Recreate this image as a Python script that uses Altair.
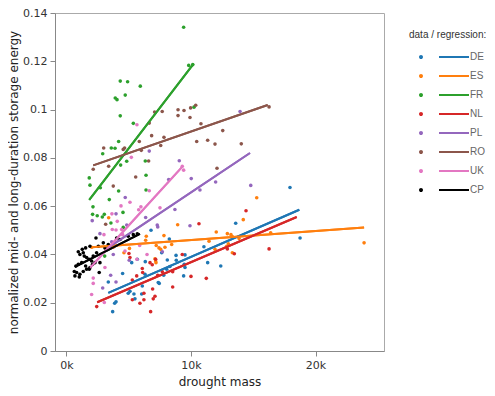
import altair as alt
import pandas as pd

regions = ["DE", "ES", "FR", "NL", "PL", "RO", "UK", "CP"]
colors = ["#1f77b4", "#ff7f0e", "#2ca02c", "#d62728", "#9467bd", "#8c564b", "#e377c2", "#000000"]

de_x = [6790, 8260, 11040, 7650, 8800, 8820, 6330, 11340, 12390, 8310, 9520, 8050, 7810, 6310, 9410, 7370,
        3360, 3710, 3870, 3980, 5100, 5420, 5500, 6040, 6090, 7450, 13590, 18760, 17950,
        4510, 5240, 5690, 4960, 9520, 9460, 8100]
de_y = [0.0500, 0.0464, 0.0432, 0.0407, 0.0396, 0.0376, 0.0370, 0.0366, 0.0352, 0.0350, 0.0346, 0.0339, 0.0314, 0.0318, 0.0311, 0.0284,
        0.0286, 0.0163, 0.0198, 0.0204, 0.0247, 0.0236, 0.0216, 0.0236, 0.0269, 0.0280, 0.0529, 0.0468, 0.0677,
        0.0321, 0.0366, 0.0380, 0.0239, 0.0398, 0.0359, 0.0377]

es_x = [8930, 12030, 7830, 6410, 6360, 7210, 7430, 7570, 8450, 11450, 11930, 7110, 7160, 3390, 14200,
        12920, 13210, 13320, 13860, 16400, 12870, 13000, 13320, 23900, 15280,
        2020, 3760, 5060, 4620, 7190, 7910]
es_y = [0.0523, 0.0493, 0.0478, 0.0475, 0.0459, 0.0437, 0.0427, 0.0421, 0.0441, 0.0455, 0.0421, 0.0382, 0.0373, 0.0552, 0.0544,
        0.0486, 0.0482, 0.0474, 0.0466, 0.0490, 0.0434, 0.0444, 0.0407, 0.0448, 0.0635,
        0.0430, 0.0430, 0.0425, 0.0407, 0.0366, 0.0430]

fr_x = [9410, 9820, 10140, 4320, 4910, 5930, 3920, 4060, 4720, 4320, 5370, 10240, 4190, 3600, 3900, 2910,
        4350, 4840, 6330, 1830, 1890, 2720, 6390, 6390, 4190, 3440, 2130, 2100, 2470, 2880, 3040, 4540,
        3570, 4560, 3070]
fr_y = [0.1341, 0.1183, 0.1186, 0.1118, 0.1115, 0.1097, 0.1048, 0.1041, 0.1060, 0.0974, 0.0943, 0.1010, 0.0868, 0.0841, 0.0840, 0.0817,
        0.0770, 0.0786, 0.0787, 0.0717, 0.0687, 0.0676, 0.0728, 0.0667, 0.0663, 0.0627, 0.0597, 0.0566, 0.0560, 0.0555, 0.0566, 0.0574,
        0.0530, 0.0512, 0.0393]

nl_x = [10640, 7160, 6890, 6090, 6120, 7700, 7330, 8530, 10000, 11230, 2430, 5290, 5900, 6220, 6220, 6920,
        6970, 7110, 6760, 8530, 14420, 16270, 13480, 12920, 5020, 5100, 5290, 5640, 9300, 6710]
nl_y = [0.0527, 0.0380, 0.0357, 0.0342, 0.0325, 0.0328, 0.0314, 0.0328, 0.0309, 0.0301, 0.0184, 0.0212, 0.0198, 0.0239, 0.0212, 0.0257,
        0.0216, 0.0227, 0.0163, 0.0265, 0.0581, 0.0423, 0.0403, 0.0423, 0.0404, 0.0387, 0.0294, 0.0311, 0.0400, 0.0366]

pl_x = [6650, 9060, 10020, 8210, 4720, 8710, 3980, 6360, 2070, 7330, 9920, 2910, 3980, 13940, 11980, 10720,
        14800, 7290, 4840, 2690, 3630, 5040, 7700, 3550, 3760]
pl_y = [0.0828, 0.0788, 0.0714, 0.0710, 0.0636, 0.0586, 0.0568, 0.0553, 0.0540, 0.0514, 0.0519, 0.0261, 0.0286, 0.0992, 0.0700, 0.0667,
        0.0686, 0.0522, 0.0522, 0.0486, 0.0452, 0.0376, 0.0411, 0.0314, 0.0400]

ro_x = [7080, 7690, 8960, 9440, 8960, 9920, 9970, 10380, 6650, 6840, 5850, 4560, 4670, 2990, 3390, 2150,
        6010, 7830, 7570, 10460, 6600, 5560, 3760, 3150, 16270, 10800, 12550, 11340, 11930, 14040, 12090]
ro_y = [0.0990, 0.0992, 0.0999, 0.0996, 0.0975, 0.0967, 0.1007, 0.1018, 0.0944, 0.0892, 0.0868, 0.0835, 0.0841, 0.0841, 0.0765, 0.0753,
        0.0831, 0.0885, 0.0851, 0.0868, 0.0787, 0.0721, 0.0683, 0.0525, 0.1011, 0.0941, 0.0913, 0.0873, 0.0857, 0.0858, 0.0757]

uk_x = [5660, 5210, 6650, 5100, 4380, 5980, 5800, 7510, 3650, 4080, 9300, 9410, 6470, 5660, 5880, 2150,
        2020, 3040, 3010, 3680, 3980, 4430, 4510, 3090, 2150, 4700]
uk_y = [0.0937, 0.0802, 0.0664, 0.0616, 0.0601, 0.0597, 0.0585, 0.0593, 0.0568, 0.0537, 0.0765, 0.0749, 0.0400, 0.0380, 0.0437, 0.0280,
        0.0234, 0.0201, 0.0482, 0.0503, 0.0501, 0.0503, 0.0482, 0.0346, 0.0302, 0.0414]

cp_x = [2370, 1890, 1540, 1270, 950, 1080, 1350, 1430, 1620, 1810, 2020, 1220, 950, 760, 630, 820,
        1080, 680, 1030, 1350, 1620, 1830, 1890, 2100, 2290, 2690, 2630, 2560, 2420, 2150, 2960, 3090,
        3360, 4030, 4300, 4960, 5370, 5690, 1540]
cp_y = [0.0468, 0.0434, 0.0427, 0.0421, 0.0411, 0.0400, 0.0407, 0.0393, 0.0387, 0.0380, 0.0373, 0.0366, 0.0359, 0.0352, 0.0329, 0.0325,
        0.0318, 0.0311, 0.0307, 0.0329, 0.0339, 0.0339, 0.0346, 0.0359, 0.0366, 0.0366, 0.0325, 0.0434, 0.0407, 0.0393, 0.0448, 0.0427,
        0.0441, 0.0468, 0.0462, 0.0475, 0.0482, 0.0485, 0.0352]

# regression line end points, in the order of `regions`
reg_x0 = [3360, 2020, 1830, 2470, 3300, 2150, 1900, 680]
reg_y0 = [0.0241, 0.0430, 0.0626, 0.0202, 0.0426, 0.0769, 0.0345, 0.0348]
reg_x1 = [18700, 23900, 10220, 18490, 14740, 16160, 9330, 5900]
reg_y1 = [0.0585, 0.0512, 0.1190, 0.0555, 0.0820, 0.1019, 0.0765, 0.0485]

series = {
    "DE": (de_x, de_y), "ES": (es_x, es_y), "FR": (fr_x, fr_y), "NL": (nl_x, nl_y),
    "PL": (pl_x, pl_y), "RO": (ro_x, ro_y), "UK": (uk_x, uk_y), "CP": (cp_x, cp_y),
}

rows = []
for r in regions:
    xs, ys = series[r]
    for x, y in zip(xs, ys):
        rows.append({"region": r, "mass": x, "energy": y})
points_df = pd.DataFrame(rows)

line_rows = []
for i, r in enumerate(regions):
    line_rows.append({"region": r, "mass": reg_x0[i], "energy": reg_y0[i], "order": 0})
    line_rows.append({"region": r, "mass": reg_x1[i], "energy": reg_y1[i], "order": 1})
lines_df = pd.DataFrame(line_rows)

FONT = "DejaVu Sans"
LFONT = "Liberation Sans"

xscale = alt.Scale(domain=[-920, 25500], nice=False, zero=False)
yscale = alt.Scale(domain=[0, 0.14], nice=False)
cscale = alt.Scale(domain=regions, range=colors)

xaxis = alt.Axis(values=[0, 10000, 20000], format="~s", title="drought mass", grid=False,
                 tickSize=5, labelFontSize=11, titleFontSize=12, titleFontWeight="normal",
                 titlePadding=6, labelPadding=3)
yaxis = alt.Axis(values=[0, 0.02, 0.04, 0.06, 0.08, 0.1, 0.12, 0.14], format="~g",
                 title="normalized mid- and long-duration storage energy", grid=False,
                 tickSize=5, labelFontSize=11, titleFontSize=12, titleFontWeight="normal",
                 titlePadding=2, labelPadding=3)

legend_symbol = "M -0.2 0 A 0.2 0.2 0 1 1 0.2 0 A 0.2 0.2 0 1 1 -0.2 0 Z M 3.6 0 L 9.6 0"

legend = alt.Legend(
    title="data / regression:", orient="none", legendX=354, legendY=17,
    symbolType=legend_symbol, symbolSize=100, symbolStrokeWidth=2, symbolOffset=6,
    labelOffset=43, labelFontSize=10, labelColor="#666666", titleFontSize=10,
    titleFontWeight="normal", titleColor="#333333", titlePadding=11, rowPadding=8,
    labelFont=LFONT, titleFont=LFONT,
)

color = alt.Color("region:N", scale=cscale, legend=legend)

lns = alt.Chart(lines_df).mark_line(strokeWidth=2).encode(
    x=alt.X("mass:Q", scale=xscale, axis=xaxis),
    y=alt.Y("energy:Q", scale=yscale, axis=yaxis),
    color=color,
    order="order:Q",
)

pts = alt.Chart(points_df).mark_circle(size=13, opacity=1).encode(
    x=alt.X("mass:Q", scale=xscale),
    y=alt.Y("energy:Q", scale=yscale),
    color=color,
)

chart = alt.layer(lns, pts, lns).properties(
    width=329, height=338,
    autosize=alt.AutoSizeParams(type="none"),
    padding={"left": 47, "top": 5, "right": 103, "bottom": 43},
).configure_view(
    stroke="#aaaaaa", strokeWidth=1
).configure_axis(
    domainColor="#888888", tickColor="#888888", labelColor="#333333", titleColor="#222222",
    labelFont=FONT, titleFont=FONT,
)

chart.save("out.html", embed_options={"renderer": "svg", "actions": False})
